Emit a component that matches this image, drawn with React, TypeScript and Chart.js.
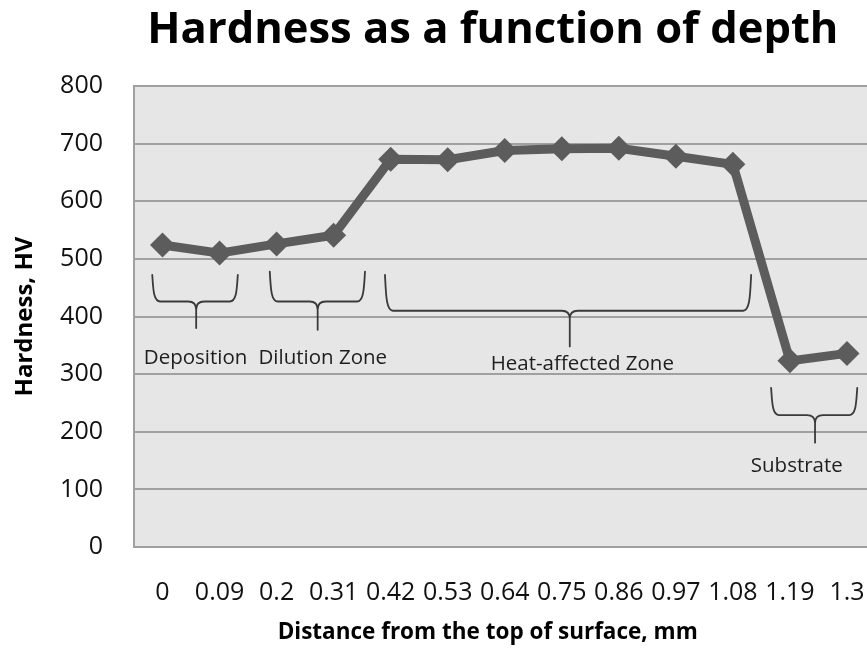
import { useEffect, useRef } from "react";
import { Chart, registerables } from "chart.js";

Chart.register(...registerables);

// ---- data ----
const depthLabels = ["0", "0.09", "0.2", "0.31", "0.42", "0.53", "0.64", "0.75", "0.86", "0.97", "1.08", "1.19", "1.3"];
const hardnessValues = [524, 510, 526, 541, 673, 672, 688, 691, 692, 678, 664, 323, 336];
const yTickValues = [0, 100, 200, 300, 400, 500, 600, 700, 800];

// zone annotations (category index / hardness value coordinates)
const zoneNames = ["Deposition", "Dilution Zone", "Heat-affected Zone", "Substrate"];
const zoneFrom = [-0.18, 1.88, 3.9, 10.67];
const zoneTo = [1.32, 3.55, 10.32, 12.18];
const zoneMid = [0.59, 2.72, 7.14, 11.44];
const zoneTop = [472, 478, 472, 276];
const zoneBar = [426, 426, 410, 229];
const zoneTip = [380, 377, 348, 181];
const zoneLabelX = [0.58, 2.81, 7.36, 11.12];
const zoneLabelY = [328, 328, 318, 140];

const chartTitle = "Hardness as a function of depth";
const xTitle = "Distance from the top of surface, mm";
const yTitle = "Hardness, HV";

const FONT = "'Open Sans', 'Noto Sans', sans-serif";

function drawBrace(ctx: CanvasRenderingContext2D, xl: number, xr: number, xm: number, yt: number, yb: number, ytip: number) {
  const r = 8;
  ctx.beginPath();
  ctx.moveTo(xl, yt);
  ctx.bezierCurveTo(xl + 1, yt + (yb - yt) * 0.5, xl + 1, yb, xl + r, yb);
  ctx.lineTo(xm - r, yb);
  ctx.quadraticCurveTo(xm, yb, xm, yb + r);
  ctx.lineTo(xm, ytip);
  ctx.moveTo(xr, yt);
  ctx.bezierCurveTo(xr - 1, yt + (yb - yt) * 0.5, xr - 1, yb, xr - r, yb);
  ctx.lineTo(xm + r, yb);
  ctx.quadraticCurveTo(xm, yb, xm, yb + r);
  ctx.stroke();
}

const annotatePlugin = {
  id: "annotate",
  beforeDraw(chart: any) {
    const { ctx, chartArea } = chart;
    ctx.save();
    ctx.fillStyle = "#e6e6e6";
    ctx.fillRect(chartArea.left, chartArea.top, chartArea.right - chartArea.left, chartArea.bottom - chartArea.top);
    ctx.restore();
  },
  beforeDatasetsDraw(chart: any) {
    const { ctx } = chart;
    const x = chart.scales.x;
    const y = chart.scales.y;
    ctx.save();
    ctx.strokeStyle = "#3a3a3a";
    ctx.lineWidth = 1.8;
    ctx.lineCap = "round";
    for (let i = 0; i < zoneNames.length; i++) {
      drawBrace(
        ctx,
        x.getPixelForValue(zoneFrom[i]),
        x.getPixelForValue(zoneTo[i]),
        x.getPixelForValue(zoneMid[i]),
        y.getPixelForValue(zoneTop[i]),
        y.getPixelForValue(zoneBar[i]),
        y.getPixelForValue(zoneTip[i])
      );
    }
    ctx.fillStyle = "#1e1e1e";
    ctx.font = `20.5px ${FONT}`;
    ctx.textAlign = "center";
    ctx.textBaseline = "middle";
    for (let i = 0; i < zoneNames.length; i++) {
      ctx.fillText(zoneNames[i], x.getPixelForValue(zoneLabelX[i]), y.getPixelForValue(zoneLabelY[i]));
    }
    ctx.restore();
  },
  afterDraw(chart: any) {
    const { ctx, chartArea } = chart;
    const w = chartArea.right - chartArea.left;
    ctx.save();
    ctx.fillStyle = "#000000";
    ctx.textAlign = "center";
    ctx.textBaseline = "alphabetic";
    ctx.font = `bold 43.5px ${FONT}`;
    ctx.fillText(chartTitle, chartArea.left + w * 0.484, 43);
    ctx.font = `bold 22.5px ${FONT}`;
    ctx.textBaseline = "middle";
    ctx.fillText(xTitle, chartArea.left + w * 0.477, 633);
    ctx.restore();
  },
};

export default function App() {
  const ref = useRef<HTMLCanvasElement | null>(null);
  useEffect(() => {
    if (!ref.current) return;
    const chart = new Chart(ref.current, {
      type: "line",
      data: {
        labels: depthLabels,
        datasets: [
          {
            data: hardnessValues,
            borderColor: "#5c5c5c",
            backgroundColor: "#5c5c5c",
            borderWidth: 9,
            pointStyle: "rectRot",
            pointRadius: 12.5,
            pointBorderWidth: 0,
            pointBackgroundColor: "#5c5c5c",
            tension: 0,
            borderJoinStyle: "round",
          },
        ],
      },
      options: {
        responsive: false,
        animation: false,
        devicePixelRatio: 1,
        layout: { padding: { top: 86, right: 6, left: 0, bottom: 0 } },
        plugins: {
          legend: { display: false },
          tooltip: { enabled: false },
          title: { display: false },
        },
        scales: {
          x: {
            type: "category",
            offset: true,
            grid: { display: false, drawTicks: false },
            border: { display: true, color: "#a0a0a0", width: 2 },
            ticks: {
              autoSkip: false,
              maxRotation: 0,
              minRotation: 0,
              padding: 31,
              color: "#111111",
              font: { family: FONT, size: 25 },
            },
            afterFit: (s: any) => {
              s.height = 102;
              s.paddingLeft = 0;
              s.paddingRight = 0;
            },
          },
          y: {
            min: 0,
            max: 800,
            afterBuildTicks: (s: any) => {
              s.ticks = yTickValues.map((v) => ({ value: v }));
            },
            grid: { color: "#a0a0a0", lineWidth: 2, drawTicks: false },
            border: { display: true, color: "#a0a0a0", width: 2 },
            ticks: {
              padding: 31,
              color: "#111111",
              font: { family: FONT, size: 25 },
            },
            title: {
              display: true,
              text: yTitle,
              color: "#000000",
              font: { family: FONT, size: 24, weight: "bold" },
              padding: { top: 10.5, bottom: 0 },
            },
            afterFit: (s: any) => {
              s.width = 134;
              s.paddingTop = 0;
              s.paddingBottom = 0;
            },
          },
        },
      },
      plugins: [annotatePlugin],
    } as any);
    return () => chart.destroy();
  }, []);
  return (
    <div style={{ position: "fixed", left: 0, top: 0, width: 867, height: 649, overflow: "hidden", background: "#ffffff" }}>
      <canvas ref={ref} width={888} height={649} style={{ display: "block", width: 888, height: 649 }} />
    </div>
  );
}
